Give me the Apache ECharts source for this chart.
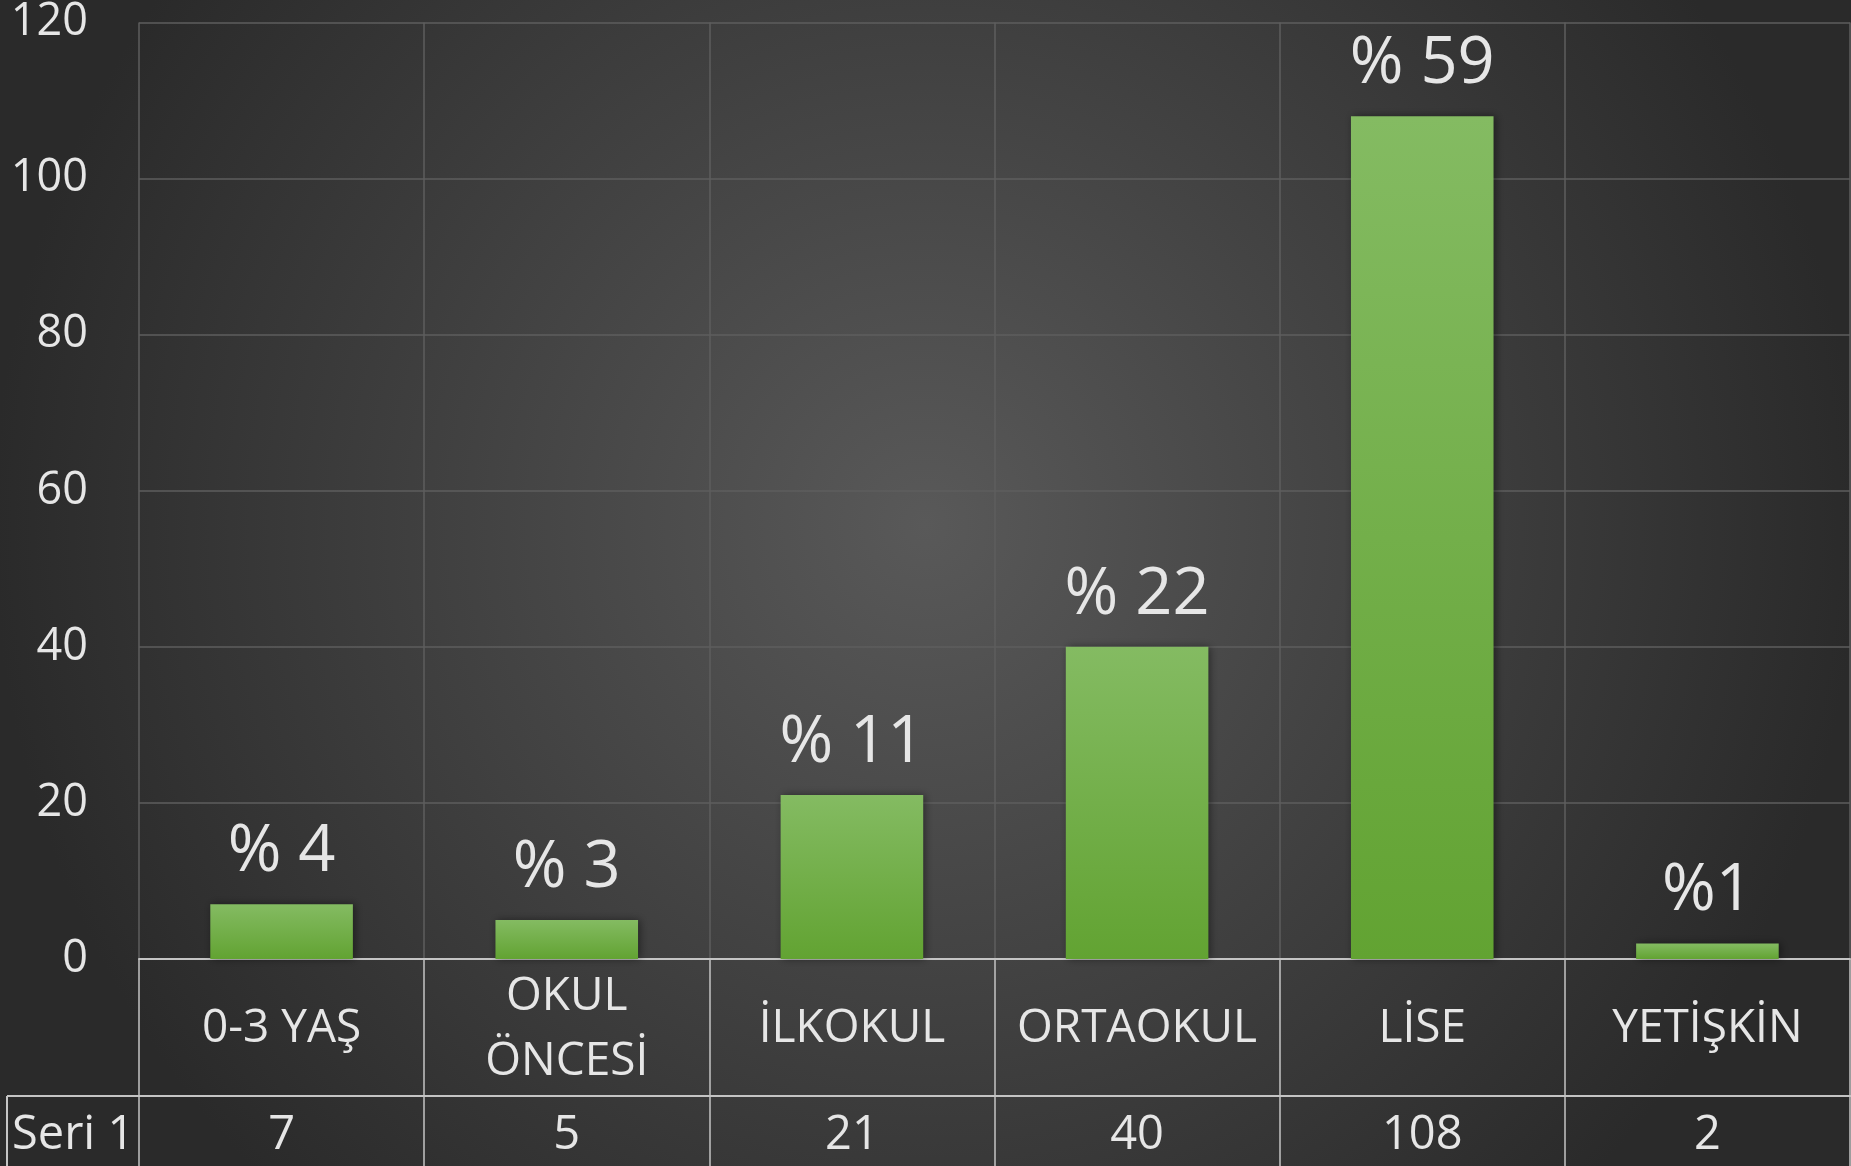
<!DOCTYPE html>
<html>
<head>
<meta charset="utf-8">
<script src="https://cdn.jsdelivr.net/npm/echarts@6/dist/echarts.min.js"></script>
<style>
html,body{margin:0;padding:0;background:#2c2c2c;}
#chart{width:1851px;height:1166px;}
</style>
</head>
<body>
<div id="chart"></div>
<script>
const categories = ['0-3 YAŞ', 'OKUL\nÖNCESİ', 'İLKOKUL', 'ORTAOKUL', 'LİSE', 'YETİŞKİN'];
const values = [7, 5, 21, 40, 108, 2];
const percentLabels = ['% 4', '% 3', '% 11', '% 22', '% 59', '%1'];
const seriesName = 'Seri 1';
const yTicks = { min: 0, max: 120, interval: 20 };

const FONT = '"Open Sans", "Noto Sans", sans-serif';
const TXT = '#e6e6e6';
const TABLE_LINE = '#c4c4c4';

const chart = echarts.init(document.getElementById('chart'));
chart.setOption({
  backgroundColor: {
    type: 'radial', x: 0.5, y: 0.45, r: 0.8,
    colorStops: [
      { offset: 0, color: '#595959' },
      { offset: 1, color: '#2a2a2a' }
    ]
  },
  animation: false,
  grid: { left: 139, right: 1, top: 22, bottom: 207, containLabel: false },
  xAxis: [{
    type: 'category',
    data: categories,
    boundaryGap: true,
    axisLine: { show: true, lineStyle: { color: TABLE_LINE, width: 2 } },
    axisTick: { show: true, interval: 0, length: 208, lineStyle: { color: TABLE_LINE, width: 1.5 } },
    splitLine: { show: true, interval: 0, lineStyle: { color: '#5e5e5e', width: 1.5 } },
    axisLabel: {
      interval: 0, margin: 70, verticalAlign: 'middle',
      color: TXT, fontFamily: FONT, fontSize: 46, lineHeight: 65
    }
  }, {
    type: 'category',
    data: values.map(String),
    position: 'bottom',
    gridIndex: 0,
    axisLine: { show: false },
    axisTick: { show: false },
    splitLine: { show: false },
    axisLabel: {
      interval: 0, margin: 177, verticalAlign: 'middle',
      color: TXT, fontFamily: FONT, fontSize: 47
    }
  }],
  yAxis: {
    type: 'value',
    min: yTicks.min, max: yTicks.max, interval: yTicks.interval,
    axisLine: { show: false },
    axisTick: { show: false },
    splitLine: { show: true, lineStyle: { color: '#5e5e5e', width: 1.5 } },
    axisLabel: { margin: 51, color: TXT, fontFamily: FONT, fontSize: 45 }
  },
  series: [{
    name: seriesName,
    type: 'bar',
    xAxisIndex: 0,
    data: values,
    barWidth: '50%',
    itemStyle: {
      color: {
        type: 'linear', x: 0, y: 0, x2: 0, y2: 1,
        colorStops: [
          { offset: 0, color: '#84bb62' },
          { offset: 1, color: '#62a332' }
        ]
      },
      shadowColor: 'rgba(0,0,0,0.45)', shadowBlur: 8, shadowOffsetX: 2, shadowOffsetY: 0
    },
    label: {
      show: true, position: 'top', distance: 19,
      color: TXT, fontFamily: FONT, fontSize: 65,
      formatter: p => percentLabels[p.dataIndex]
    }
  }],
  graphic: [
    { type: 'line', shape: { x1: 7, y1: 1096, x2: 1851, y2: 1096 }, style: { stroke: TABLE_LINE, lineWidth: 2 } },
    { type: 'line', shape: { x1: 7, y1: 1096, x2: 7, y2: 1166 }, style: { stroke: TABLE_LINE, lineWidth: 2 } },
    { type: 'text', left: 12, top: 1112, style: { text: seriesName, fill: TXT, font: '47px "Open Sans", "Noto Sans", sans-serif' } }
  ]
});
</script>
</body>
</html>
